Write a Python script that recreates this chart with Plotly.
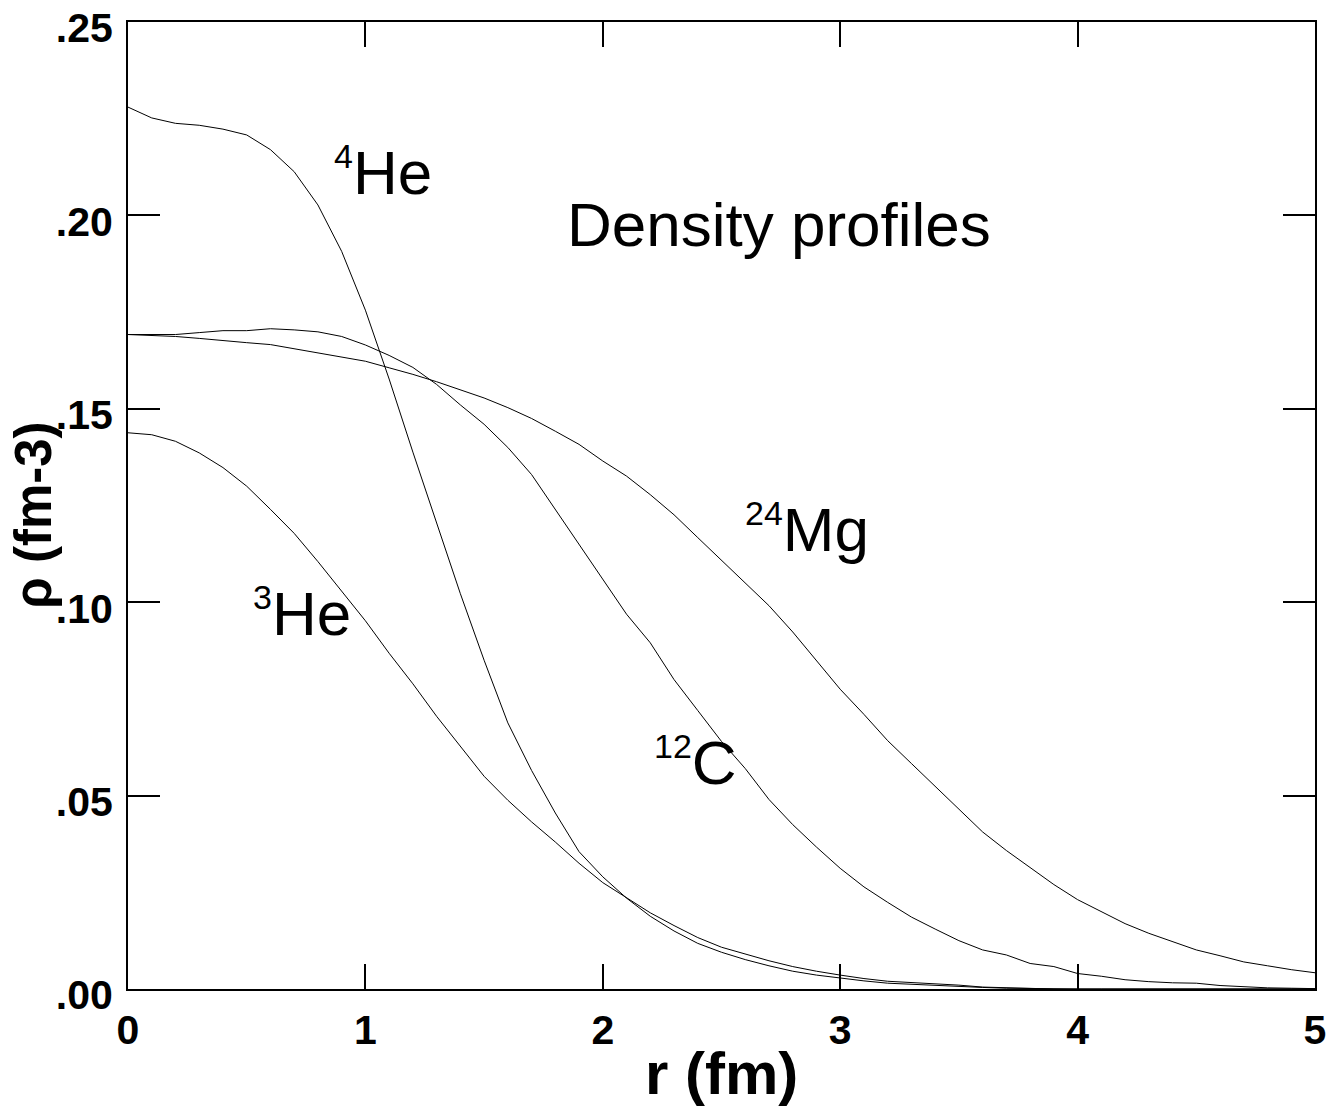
import plotly.graph_objects as go

# radius grid (fm)
r = [round(0.1 * i, 1) for i in range(51)]

he4 = [0.2280, 0.2252, 0.2238, 0.2233, 0.2223, 0.2208, 0.2170, 0.2113, 0.2027, 0.1907,
       0.1755, 0.1577, 0.1388, 0.1204, 0.1022, 0.0850, 0.0688, 0.0565, 0.0455, 0.0355,
       0.0290, 0.0235, 0.0188, 0.0150, 0.0118, 0.0095, 0.0076, 0.0060, 0.0046, 0.0036,
       0.0028, 0.0021, 0.0015, 0.0012, 0.0009, 0.0006, 0.0004, 0.0002, 0.0001, 0.0,
       0.0, 0.0, 0.0, 0.0, 0.0, 0.0, 0.0, 0.0, 0.0, 0.0, 0.0]

he3 = [0.1438, 0.1433, 0.1416, 0.1386, 0.1348, 0.1300, 0.1240, 0.1178, 0.1105, 0.1030,
       0.0952, 0.0868, 0.0789, 0.0705, 0.0628, 0.0550, 0.0488, 0.0432, 0.0380, 0.0325,
       0.0275, 0.0235, 0.0197, 0.0164, 0.0133, 0.0108, 0.0090, 0.0073, 0.0058, 0.0046,
       0.0036, 0.0027, 0.0020, 0.0017, 0.0014, 0.0010, 0.0005, 0.0003, 0.0001, 0.0,
       0.0, 0.0, 0.0, 0.0, 0.0, 0.0, 0.0, 0.0, 0.0, 0.0, 0.0]

c12 = [0.1692, 0.1692, 0.1692, 0.1697, 0.1702, 0.1702, 0.1707, 0.1704, 0.1699, 0.1687,
       0.1665, 0.1638, 0.1607, 0.1563, 0.1510, 0.1460, 0.1400, 0.1330, 0.1240, 0.1150,
       0.1060, 0.0969, 0.0895, 0.0800, 0.0720, 0.0640, 0.0570, 0.0490, 0.0425, 0.0367,
       0.0312, 0.0264, 0.0224, 0.0186, 0.0155, 0.0125, 0.0101, 0.0088, 0.0066, 0.0058,
       0.0040, 0.0033, 0.0024, 0.0019, 0.0016, 0.0015, 0.0009, 0.0006, 0.0003, 0.0002,
       0.0001]

mg24 = [0.1692, 0.1690, 0.1687, 0.1682, 0.1676, 0.1671, 0.1666, 0.1655, 0.1645, 0.1634,
        0.1623, 0.1606, 0.1589, 0.1570, 0.1550, 0.1528, 0.1503, 0.1475, 0.1442, 0.1408,
        0.1365, 0.1326, 0.1278, 0.1226, 0.1167, 0.1108, 0.1050, 0.0991, 0.0923, 0.0850,
        0.0775, 0.0710, 0.0642, 0.0583, 0.0524, 0.0465, 0.0406, 0.0358, 0.0313, 0.0270,
        0.0231, 0.0200, 0.0169, 0.0144, 0.0122, 0.0101, 0.0086, 0.0070, 0.0060, 0.0050,
        0.0042]

series_names = ["4He", "3He", "12C", "24Mg"]
series_values = [he4, he3, c12, mg24]

y_tickvals = [0.00, 0.05, 0.10, 0.15, 0.20, 0.25]
y_ticktext = [".00", ".05", ".10", ".15", ".20", ".25"]
x_tickvals = [0, 1, 2, 3, 4, 5]
x_ticktext = ["0", "1", "2", "3", "4", "5"]

SUP = '<sup><span style="font-size:34px">{}</span></sup>'
label_text = [SUP.format("4") + "He", SUP.format("3") + "He", SUP.format("12") + "C",
              SUP.format("24") + "Mg", "Density profiles"]
label_x = [1.074, 0.733, 2.392, 2.862, 2.744]
label_y = [0.2112, 0.0972, 0.0588, 0.1188, 0.1976]

FONT = "Liberation Sans, Arial, sans-serif"

fig = go.Figure()
for name, vals in zip(series_names, series_values):
    fig.add_trace(go.Scatter(x=r, y=vals, mode="lines", name=name,
                             line=dict(color="black", width=1), showlegend=False))

annotations = []
for t, x, y in zip(label_text, label_x, label_y):
    annotations.append(dict(x=x, y=y, xref="x", yref="y", text=t, showarrow=False,
                            xanchor="center", yanchor="middle",
                            font=dict(family=FONT, size=62, color="black")))

annotations.append(dict(x=0.5, y=-0.0875, xref="paper", yref="paper", text="<b>r (fm)</b>",
                        showarrow=False, xanchor="center", yanchor="middle",
                        font=dict(family=FONT, size=60, color="black")))
annotations.append(dict(x=-0.0795, y=0.49, xref="paper", yref="paper", text="<b>ρ (fm-3)</b>",
                        showarrow=False, xanchor="center", yanchor="middle", textangle=-90,
                        font=dict(family=FONT, size=51, color="black")))

axis_common = dict(showline=True, linecolor="black", linewidth=2, mirror="allticks",
                   ticks="inside", tickcolor="black", tickwidth=1.5,
                   showgrid=False, zeroline=False, automargin=False,
                   tickfont=dict(family=FONT, size=41, color="black", weight="bold"))

fig.update_xaxes(range=[0, 5], tickvals=x_tickvals, ticktext=x_ticktext, ticklen=25,
                 ticklabelstandoff=4, **axis_common)
fig.update_yaxes(range=[0, 0.25], tickvals=y_tickvals, ticktext=y_ticktext, ticklen=32,
                 ticklabelstandoff=5, ticklabelshift=6, **axis_common)

fig.update_layout(width=1334, height=1117, margin=dict(l=128, r=19, t=22, b=128),
                  paper_bgcolor="white", plot_bgcolor="white", annotations=annotations)

fig.write_html("out.html")
